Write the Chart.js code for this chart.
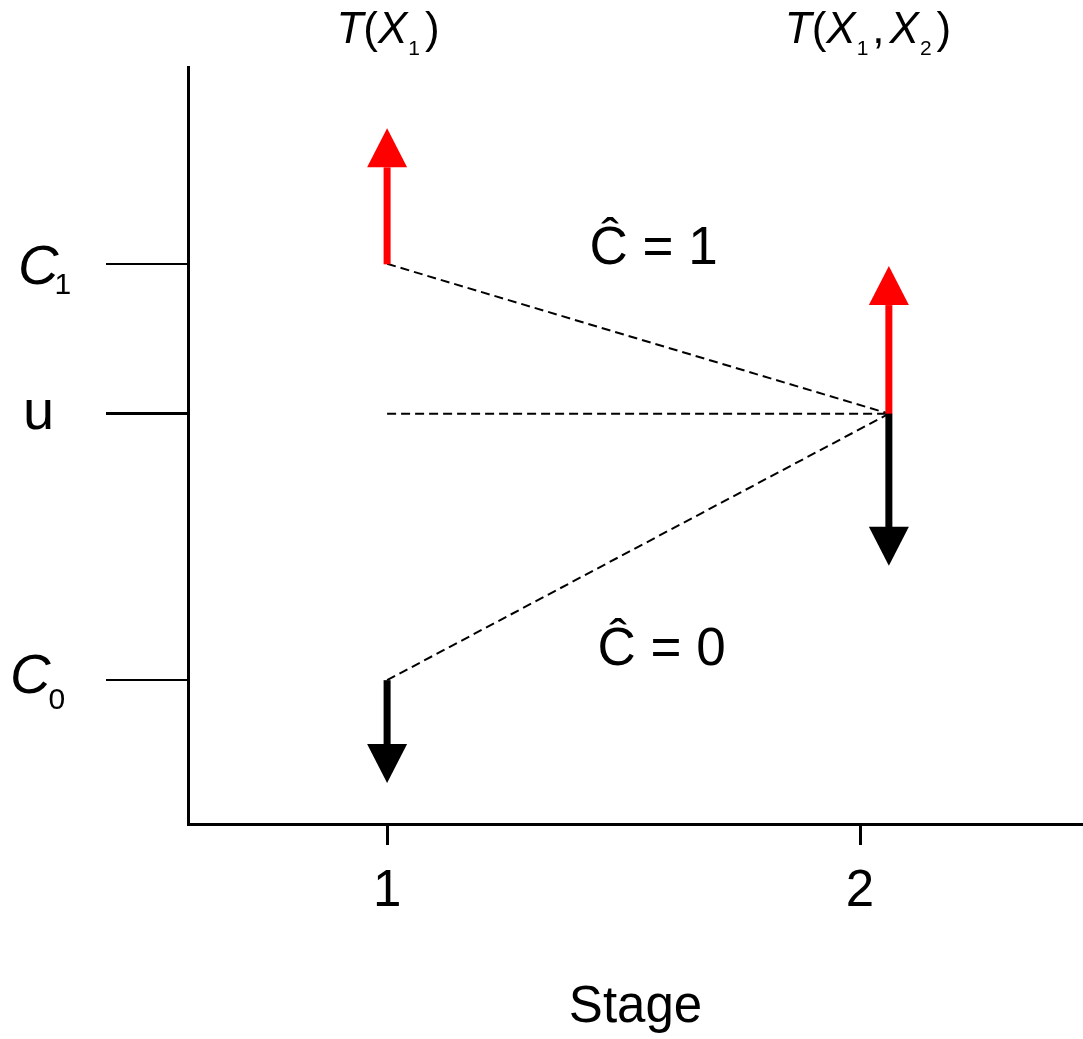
<!DOCTYPE html>
<html>
<head>
<meta charset="utf-8">
<script src="https://cdn.jsdelivr.net/npm/chart.js@4/dist/chart.umd.min.js"></script>
<style>
  html, body { margin: 0; padding: 0; background: #ffffff; }
  #wrap { width: 1083px; height: 1039px; }
</style>
</head>
<body>
<div id="wrap"><canvas id="c" width="1083" height="1039"></canvas></div>
<script>
// Stage axis
const stageTicks = [1, 2];
const stageLabels = ['1', '2'];

// Statistic levels on the vertical axis: C1, u, C0
const levelNames = ['C', 'u', 'C'];
const levelSubs = ['1', '', '0'];
const levelValues = [74.0, 54.2, 19.0];

// Arrows: stage position, start level, end level, colour
const arrowStage = [1, 1, 2.061, 2.061];
const arrowFrom = [74.0, 19.0, 54.2, 54.2];
const arrowTo = [91.9, 5.4, 73.7, 34.1];
const arrowColor = ['#ff0000', '#000000', '#ff0000', '#000000'];

// Dashed boundary lines from stage 1 levels to the stage 2 threshold
const dashFromStage = [1, 1, 1];
const dashFromLevel = [74.0, 54.2, 19.0];
const dashToStage = [2.061, 2.061, 2.061];
const dashToLevel = [54.2, 54.2, 54.2];

// Decision region labels
const regionText = ['\u0108 = 1', '\u0108 = 0'];
const regionStage = [1.428, 1.445];
const regionLevel = [74.0, 21.0];

// Statistic labels over each stage
const headerStage = [1, 2];

const SANS = '"Liberation Sans", Arial, Helvetica, sans-serif';

const datasets = [];
for (let i = 0; i < dashFromStage.length; i++) {
  datasets.push({
    type: 'line',
    data: [{ x: dashFromStage[i], y: dashFromLevel[i] }, { x: dashToStage[i], y: dashToLevel[i] }],
    borderColor: '#000000',
    borderWidth: 2,
    borderDash: [9, 5],
    pointRadius: 0,
    fill: false
  });
}
for (let i = 0; i < arrowStage.length; i++) {
  datasets.push({
    type: 'line',
    arrow: true,
    data: [{ x: arrowStage[i], y: arrowFrom[i] }, { x: arrowStage[i], y: arrowTo[i] }],
    borderColor: arrowColor[i],
    backgroundColor: arrowColor[i],
    showLine: false,
    pointRadius: 0,
    pointHoverRadius: 0
  });
}

// Draws a sequence of text runs (for italics and subscripts) starting at x
function drawRuns(ctx, runs, x, baseline, centered) {
  let total = 0;
  runs.forEach(r => { ctx.font = r.font; r.w = ctx.measureText(r.text).width; total += r.w + (r.gap || 0); });
  let cx = centered ? x - total / 2 : x;
  ctx.textAlign = 'left';
  ctx.textBaseline = 'alphabetic';
  runs.forEach(r => {
    ctx.font = r.font;
    ctx.fillText(r.text, cx, baseline + (r.dy || 0));
    cx += r.w + (r.gap || 0);
  });
}

const it = s => 'italic ' + s + 'px ' + SANS;
const rg = s => s + 'px ' + SANS;

const headerRuns = [
  [
    { text: 'T', font: it(44) }, { text: '(', font: rg(44) }, { text: 'X', font: it(44), gap: 1 },
    { text: '1', font: rg(21), dy: 12, gap: 5 }, { text: ')', font: rg(44) }
  ],
  [
    { text: 'T', font: it(44) }, { text: '(', font: rg(44) }, { text: 'X', font: it(44), gap: 1 },
    { text: '1', font: rg(21), dy: 12, gap: 4 }, { text: ',', font: rg(44), gap: 5 },
    { text: 'X', font: it(44), gap: 1 }, { text: '2', font: rg(21), dy: 12, gap: 5 }, { text: ')', font: rg(44) }
  ]
];
const headerNudge = [1, 8];
const levelLabelX = [18, 23, 10];
const levelLabelDy = [20, 15, 13];
const levelSubDy = [10, 0, 16];
const levelSubGap = [-4, 0, -2];

const annotate = {
  id: 'annotate',
  afterDatasetsDraw(chart) {
    const ctx = chart.ctx;
    const xs = chart.scales.x, ys = chart.scales.y;
    ctx.save();

    // arrows
    const HEAD_LEN = 39, HEAD_HALF = 20, SHAFT = 7;
    chart.data.datasets.forEach((ds, i) => {
      if (!ds.arrow) return;
      const pts = chart.getDatasetMeta(i).data;
      const p0 = pts[0], p1 = pts[1];
      const dir = Math.sign(p1.y - p0.y);
      const baseY = p1.y - dir * HEAD_LEN;
      ctx.fillStyle = ds.borderColor;
      ctx.fillRect(p0.x - SHAFT / 2, Math.min(p0.y, baseY), SHAFT, Math.abs(baseY - p0.y) + 0.5);
      ctx.beginPath();
      ctx.moveTo(p1.x, p1.y);
      ctx.lineTo(p1.x - HEAD_HALF, baseY);
      ctx.lineTo(p1.x + HEAD_HALF, baseY);
      ctx.closePath();
      ctx.fill();
    });

    ctx.fillStyle = '#000000';

    // level labels
    levelValues.forEach((v, i) => {
      const py = ys.getPixelForValue(v);
      const runs = [{ text: levelNames[i], font: levelSubs[i] ? it(56) : rg(56), gap: levelSubGap[i] }];
      if (levelSubs[i]) runs.push({ text: levelSubs[i], font: rg(30), dy: levelSubDy[i] });
      drawRuns(ctx, runs, levelLabelX[i], py + levelLabelDy[i], false);
    });

    // stage headers
    headerStage.forEach((s, i) => {
      drawRuns(ctx, headerRuns[i], xs.getPixelForValue(s) + headerNudge[i], 43, true);
    });

    // region labels
    ctx.font = rg(53);
    ctx.textAlign = 'left';
    ctx.textBaseline = 'alphabetic';
    regionText.forEach((t, i) => {
      ctx.fillText(t, xs.getPixelForValue(regionStage[i]), ys.getPixelForValue(regionLevel[i]));
    });

    ctx.restore();
  }
};

new Chart(document.getElementById('c'), {
  type: 'scatter',
  data: { datasets },
  options: {
    responsive: false,
    animation: false,
    devicePixelRatio: 1,
    layout: { padding: { top: 67, right: 0, bottom: 0, left: 0 } },
    plugins: { legend: { display: false }, tooltip: { enabled: false } },
    events: [],
    scales: {
      x: {
        type: 'linear',
        min: 0.579,
        max: 2.4715,
        afterFit: s => { s.height = 215; },
        afterBuildTicks: s => { s.ticks = stageTicks.map(v => ({ value: v })); },
        ticks: {
          color: '#000000',
          font: { family: SANS, size: 51 },
          padding: 16,
          maxRotation: 0,
          callback: v => stageLabels[stageTicks.indexOf(v)]
        },
        grid: { drawOnChartArea: false, drawTicks: true, tickLength: 21, color: '#000000', lineWidth: 3 },
        border: { display: true, color: '#000000', width: 3 },
        title: { display: true, text: 'Stage', color: '#000000', font: { family: SANS, size: 51 }, padding: { top: 0, bottom: 0 } }
      },
      y: {
        type: 'linear',
        min: 0,
        max: 100,
        afterFit: s => { s.width = 188; },
        afterBuildTicks: s => { s.ticks = levelValues.map(v => ({ value: v })); },
        ticks: { display: false },
        grid: {
          drawOnChartArea: false, drawTicks: true, tickLength: 82, color: '#000000',
          lineWidth: c => (c.tick && c.tick.value === levelValues[1] ? 3 : 2)
        },
        border: { display: true, color: '#000000', width: 3 }
      }
    }
  },
  plugins: [annotate]
});
</script>
</body>
</html>
